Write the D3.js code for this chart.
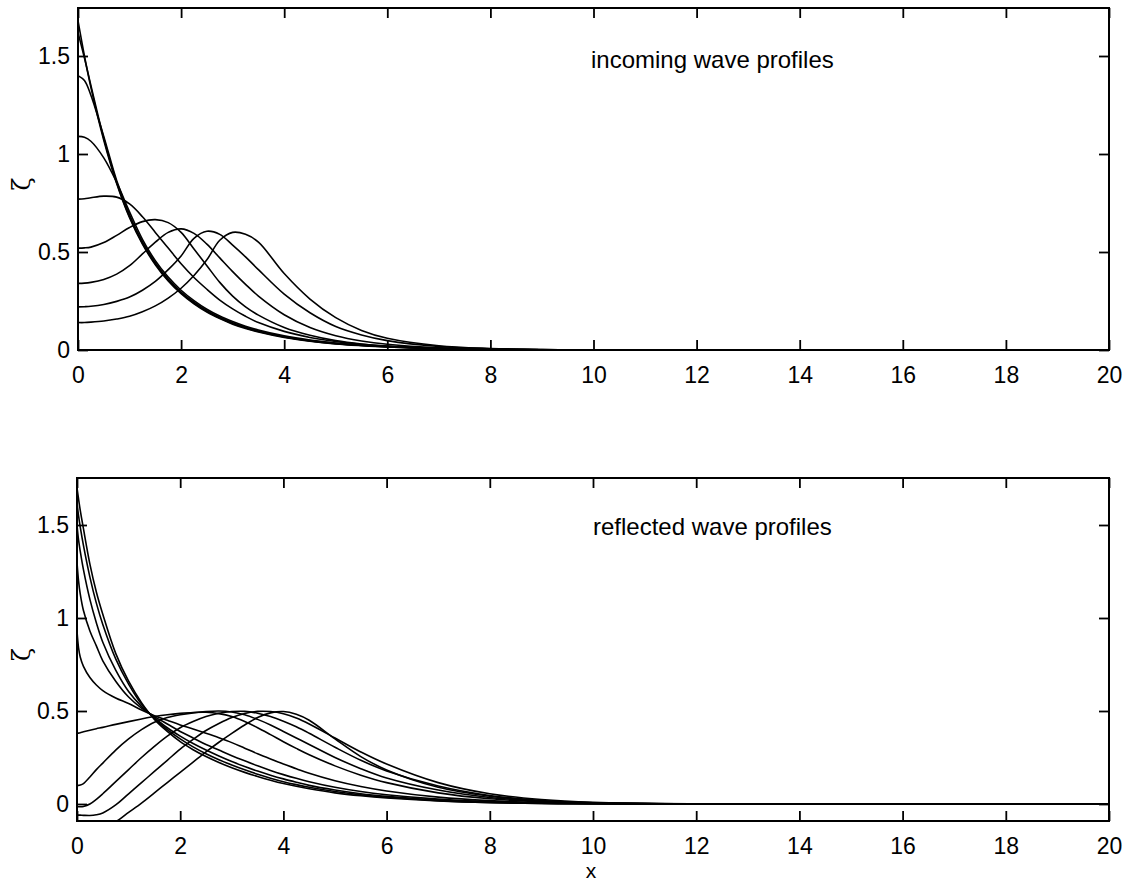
<!DOCTYPE html>
<html>
<head>
<meta charset="utf-8">
<script src="https://cdn.jsdelivr.net/npm/d3@7"></script>
<style>
  html, body { margin: 0; padding: 0; background: #fff; }
  svg { display: block; }
  text { font-family: "Liberation Sans", Arial, Helvetica, sans-serif; fill: #000; }
</style>
</head>
<body>
<svg id="chart" width="1137" height="885"></svg>
<script>
// ---------------- DATA ----------------
const xTicks = [0, 2, 4, 6, 8, 10, 12, 14, 16, 18, 20];
const yTicksTop = [0, 0.5, 1, 1.5];
const yTicksBottom = [0, 0.5, 1, 1.5];
const titleTop = "incoming wave profiles";
const titleBottom = "reflected wave profiles";
const xLabel = "x";
const yLabel = "ζ";

// sample positions (x) for the incoming profiles
const xIncoming = [0, 0.125, 0.25, 0.5, 0.75, 1, 1.25, 1.5, 1.75, 2, 2.25, 2.5, 2.75, 3, 3.25, 3.5, 4, 4.5, 5, 5.5, 6, 7, 8, 9, 10, 12, 20];
const inc1 = [0.14, 0.14, 0.142, 0.148, 0.158, 0.172, 0.195, 0.225, 0.265, 0.315, 0.38, 0.46, 0.56, 0.6, 0.59, 0.55, 0.39, 0.26, 0.165, 0.1, 0.06, 0.022, 0.008, 0.002, 0, 0, 0];
const inc2 = [0.22, 0.221, 0.223, 0.232, 0.248, 0.27, 0.305, 0.35, 0.41, 0.48, 0.57, 0.606, 0.59, 0.535, 0.475, 0.41, 0.285, 0.19, 0.12, 0.077, 0.048, 0.018, 0.006, 0.002, 0, 0, 0];
const inc3 = [0.34, 0.341, 0.345, 0.36, 0.387, 0.43, 0.49, 0.55, 0.6, 0.618, 0.595, 0.54, 0.47, 0.4, 0.335, 0.275, 0.18, 0.115, 0.073, 0.046, 0.029, 0.011, 0.004, 0.001, 0, 0, 0];
const inc4 = [0.52, 0.521, 0.525, 0.548, 0.585, 0.625, 0.655, 0.665, 0.65, 0.6, 0.515, 0.43, 0.345, 0.275, 0.22, 0.178, 0.115, 0.075, 0.048, 0.031, 0.02, 0.008, 0.003, 0.001, 0, 0, 0];
const inc5 = [0.77, 0.772, 0.777, 0.785, 0.78, 0.745, 0.68, 0.6, 0.52, 0.44, 0.37, 0.31, 0.255, 0.21, 0.172, 0.14, 0.095, 0.064, 0.043, 0.029, 0.019, 0.008, 0.003, 0.001, 0, 0, 0];
const inc6 = [1.09, 1.085, 1.065, 0.98, 0.855, 0.705, 0.565, 0.456, 0.372, 0.305, 0.252, 0.208, 0.173, 0.145, 0.121, 0.102, 0.072, 0.051, 0.036, 0.026, 0.018, 0.009, 0.004, 0.001, 0, 0, 0];
const inc7 = [1.40, 1.375, 1.3, 1.09, 0.865, 0.69, 0.552, 0.446, 0.362, 0.296, 0.244, 0.201, 0.167, 0.139, 0.116, 0.097, 0.068, 0.048, 0.034, 0.024, 0.017, 0.008, 0.003, 0.001, 0, 0, 0];
const inc8 = [1.62, 1.49, 1.35, 1.08, 0.855, 0.68, 0.545, 0.44, 0.356, 0.291, 0.239, 0.197, 0.163, 0.135, 0.113, 0.094, 0.066, 0.046, 0.032, 0.023, 0.016, 0.007, 0.003, 0.001, 0, 0, 0];
const inc9 = [1.68, 1.5, 1.34, 1.07, 0.85, 0.675, 0.54, 0.435, 0.352, 0.287, 0.235, 0.193, 0.16, 0.132, 0.11, 0.092, 0.064, 0.045, 0.031, 0.022, 0.015, 0.007, 0.003, 0.001, 0, 0, 0];

// sample positions (x) for the reflected profiles
const xReflected = [0, 0.03, 0.0625, 0.125, 0.25, 0.375, 0.5, 0.75, 1, 1.25, 1.5, 1.75, 2, 2.25, 2.5, 2.75, 3, 3.25, 3.5, 3.75, 4, 4.25, 4.5, 5, 5.5, 6, 7, 8, 9, 10, 12, 20];
const ref1 = [1.70, 1.64, 1.58, 1.48, 1.29, 1.14, 1.02, 0.81, 0.66, 0.545, 0.455, 0.39, 0.335, 0.292, 0.255, 0.223, 0.195, 0.17, 0.148, 0.128, 0.11, 0.095, 0.082, 0.06, 0.044, 0.032, 0.016, 0.007, 0.003, 0.001, 0, 0];
const ref2 = [1.62, 1.55, 1.49, 1.39, 1.22, 1.08, 0.965, 0.78, 0.645, 0.537, 0.46, 0.4, 0.35, 0.307, 0.27, 0.238, 0.21, 0.184, 0.16, 0.139, 0.12, 0.104, 0.09, 0.067, 0.049, 0.036, 0.018, 0.008, 0.003, 0.001, 0, 0];
const ref3 = [1.5, 1.42, 1.36, 1.26, 1.1, 0.975, 0.87, 0.72, 0.605, 0.525, 0.465, 0.41, 0.365, 0.325, 0.29, 0.258, 0.228, 0.201, 0.177, 0.155, 0.135, 0.117, 0.1, 0.075, 0.055, 0.041, 0.021, 0.01, 0.004, 0.001, 0, 0];
const ref4 = [1.30, 1.2, 1.13, 1.04, 0.93, 0.85, 0.77, 0.66, 0.575, 0.515, 0.47, 0.43, 0.39, 0.355, 0.32, 0.29, 0.26, 0.232, 0.205, 0.18, 0.158, 0.138, 0.12, 0.09, 0.067, 0.05, 0.026, 0.012, 0.005, 0.002, 0, 0];
const ref5 = [0.93, 0.84, 0.79, 0.74, 0.68, 0.64, 0.61, 0.57, 0.54, 0.505, 0.475, 0.45, 0.425, 0.403, 0.38, 0.356, 0.33, 0.3, 0.27, 0.242, 0.215, 0.19, 0.165, 0.125, 0.094, 0.07, 0.037, 0.018, 0.008, 0.003, 0, 0];
const ref6 = [0.38, 0.381, 0.383, 0.388, 0.397, 0.405, 0.412, 0.428, 0.443, 0.457, 0.47, 0.48, 0.487, 0.492, 0.493, 0.486, 0.47, 0.443, 0.41, 0.373, 0.335, 0.299, 0.265, 0.205, 0.155, 0.115, 0.06, 0.028, 0.012, 0.004, 0, 0];
const ref7 = [0.10, 0.1, 0.102, 0.11, 0.145, 0.185, 0.22, 0.29, 0.35, 0.4, 0.44, 0.465, 0.48, 0.49, 0.497, 0.5, 0.495, 0.48, 0.455, 0.425, 0.39, 0.355, 0.32, 0.25, 0.19, 0.14, 0.075, 0.035, 0.015, 0.005, 0, 0];
const ref8 = [-0.015, -0.015, -0.015, -0.013, 0.0, 0.025, 0.055, 0.12, 0.185, 0.25, 0.31, 0.365, 0.41, 0.443, 0.47, 0.488, 0.497, 0.498, 0.488, 0.47, 0.445, 0.415, 0.38, 0.305, 0.235, 0.178, 0.097, 0.046, 0.019, 0.007, 0.001, 0];
const ref9 = [-0.06, -0.06, -0.06, -0.061, -0.062, -0.058, -0.048, -0.005, 0.055, 0.115, 0.175, 0.235, 0.295, 0.347, 0.395, 0.433, 0.465, 0.487, 0.498, 0.497, 0.485, 0.462, 0.43, 0.355, 0.28, 0.215, 0.115, 0.055, 0.024, 0.009, 0.001, 0];
const ref10 = [-0.12, -0.12, -0.12, -0.12, -0.12, -0.118, -0.115, -0.095, -0.045, 0.005, 0.06, 0.115, 0.17, 0.225, 0.28, 0.332, 0.38, 0.425, 0.465, 0.49, 0.497, 0.482, 0.45, 0.35, 0.255, 0.183, 0.09, 0.042, 0.017, 0.006, 0.001, 0];

const incomingSeries = [inc1, inc2, inc3, inc4, inc5, inc6, inc7, inc8, inc9];
const reflectedSeries = [ref1, ref2, ref3, ref4, ref5, ref6, ref7, ref8, ref9, ref10];

// ---------------- DRAW ----------------
const svg = d3.select("#chart");
svg.append("rect").attr("width", 1137).attr("height", 885).attr("fill", "#fff");

function panel(cfg) {
  const { left, right, top, bottom, yDomain, yTicks, xs, series, title, titleX, titleY, id, showXLabel } = cfg;
  const x = d3.scaleLinear().domain([0, 20]).range([left, right]);
  const y = d3.scaleLinear().domain(yDomain).range([bottom, top]);
  const g = svg.append("g");

  g.append("clipPath").attr("id", id).append("rect")
    .attr("x", left).attr("y", top).attr("width", right - left).attr("height", bottom - top);

  const line = d3.line()
    .x(d => x(d[0]))
    .y(d => y(d[1]))
    .curve(d3.curveCatmullRom.alpha(0.5));

  const lines = g.append("g").attr("clip-path", `url(#${id})`);
  series.forEach(s => {
    lines.append("path")
      .datum(xs.map((xv, i) => [xv, s[i]]))
      .attr("d", line)
      .attr("fill", "none")
      .attr("stroke", "#000")
      .attr("stroke-width", 1.6)
      .attr("stroke-linejoin", "round");
  });

  const fmt = d => String(+d.toFixed(2));
  const tickLen = 10;

  const ax = g.append("g").attr("transform", `translate(0,${bottom})`)
    .call(d3.axisBottom(x).tickValues(xTicks).tickFormat(fmt).tickSize(-tickLen).tickPadding(17));
  const axT = g.append("g").attr("transform", `translate(0,${top})`)
    .call(d3.axisTop(x).tickValues(xTicks).tickFormat("").tickSize(-tickLen));
  const ay = g.append("g").attr("transform", `translate(${left},0)`)
    .call(d3.axisLeft(y).tickValues(yTicks).tickFormat(fmt).tickSize(-tickLen).tickPadding(8));
  const ayR = g.append("g").attr("transform", `translate(${right},0)`)
    .call(d3.axisRight(y).tickValues(yTicks).tickFormat("").tickSize(-tickLen));

  [ax, axT, ay, ayR].forEach(a => {
    a.select(".domain").remove();
    a.selectAll(".tick line").attr("stroke", "#000").attr("stroke-width", 1.8);
    a.selectAll("text").attr("font-size", 23).attr("fill", "#000")
      .style("font-family", '"Liberation Sans", Arial, sans-serif');
  });

  g.append("rect")
    .attr("x", left).attr("y", top).attr("width", right - left).attr("height", bottom - top)
    .attr("fill", "none").attr("stroke", "#000").attr("stroke-width", 2);

  g.append("text").attr("x", titleX).attr("y", titleY)
    .attr("font-size", 24)
    .text(title);

  g.append("text")
    .attr("transform", `translate(30,${(top + bottom) / 2 + 5}) rotate(-90)`)
    .attr("text-anchor", "middle")
    .attr("font-size", 24)
    .style("font-family", '"DejaVu Serif", serif')
    .text(yLabel);

  if (showXLabel) {
    g.append("text").attr("x", x(10) - 2).attr("y", 878)
      .attr("text-anchor", "middle").attr("font-size", 21)
      .text(xLabel);
  }
}

panel({
  id: "clipTop", left: 78, right: 1109, top: 8, bottom: 350,
  yDomain: [0, 342 / 196], yTicks: yTicksTop,
  xs: xIncoming, series: incomingSeries,
  title: titleTop, titleX: 591, titleY: 68, showXLabel: false
});

panel({
  id: "clipBottom", left: 77, right: 1109, top: 478, bottom: 821,
  yDomain: [-17 / 186, 326 / 186], yTicks: yTicksBottom,
  xs: xReflected, series: reflectedSeries,
  title: titleBottom, titleX: 593, titleY: 535, showXLabel: true
});
</script>
</body>
</html>
